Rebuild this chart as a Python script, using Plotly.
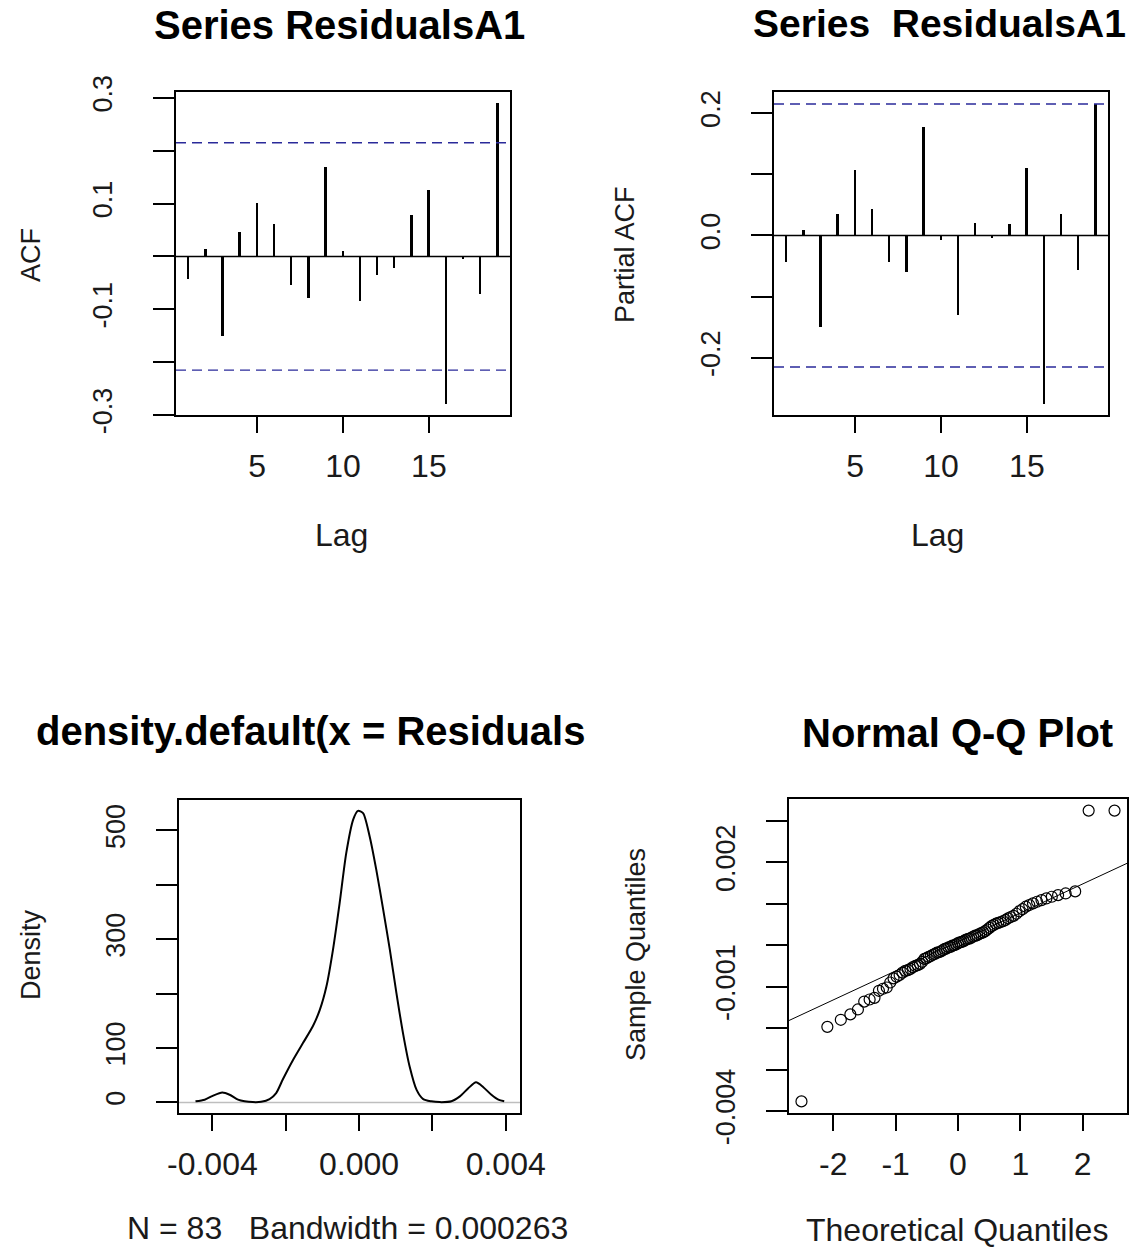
import plotly.graph_objects as go

# ---------------- data ----------------
lags = list(range(1, 20))
acf_values = [-0.042, 0.014, -0.151, 0.047, 0.101, 0.061, -0.055, -0.078, 0.170, 0.010,
              -0.084, -0.035, -0.021, 0.078, 0.125, -0.280, -0.005, -0.071, 0.290]
pacf_values = [-0.044, 0.009, -0.150, 0.035, 0.107, 0.044, -0.044, -0.059, 0.178, -0.007,
               -0.130, 0.020, -0.004, 0.018, 0.110, -0.275, 0.035, -0.056, 0.215]
conf_limit = 0.215

density_x = [-0.00446, -0.00421, -0.00399, -0.00373, -0.00353, -0.00330, -0.00312, -0.00290,
             -0.00267, -0.00244, -0.00226, -0.00208, -0.00180, -0.00153, -0.00126, -0.00107,
             -0.00089, -0.00071, -0.00053, -0.00035, -0.00016, -0.00003, 0.00011, 0.00029,
             0.00047, 0.00066, 0.00084, 0.00102, 0.00120, 0.00138, 0.00157, 0.00175,
             0.00197, 0.00220, 0.00252, 0.00275, 0.00298, 0.00319, 0.00339, 0.00361,
             0.00380, 0.00396]
density_y = [2, 5, 12, 18, 14, 5, 2, 0.5, 1, 6, 17, 42, 78, 109, 140, 170, 213, 281, 366, 458,
             520, 536, 532, 489, 428, 354, 281, 201, 127, 66, 23, 6, 2, 0.5, 2, 11, 26, 37, 28,
             14, 5, 2]
density_n = 83
density_bw = "0.000263"

qq_theoretical = [-2.510, -2.095, -1.879, -1.726, -1.605, -1.504, -1.417, -1.339, -1.268, -1.203,
                  -1.143, -1.087, -1.034, -0.984, -0.936, -0.890, -0.846, -0.803, -0.763, -0.723,
                  -0.684, -0.646, -0.609, -0.573, -0.538, -0.504, -0.470, -0.437, -0.404, -0.371,
                  -0.339, -0.307, -0.275, -0.244, -0.213, -0.182, -0.152, -0.121, -0.091, -0.060,
                  -0.030, 0.000, 0.030, 0.060, 0.091, 0.121, 0.152, 0.182, 0.213, 0.244,
                  0.275, 0.307, 0.339, 0.371, 0.404, 0.437, 0.470, 0.504, 0.538, 0.573,
                  0.609, 0.646, 0.684, 0.723, 0.763, 0.803, 0.846, 0.890, 0.936, 0.984,
                  1.034, 1.087, 1.143, 1.203, 1.268, 1.339, 1.417, 1.504, 1.605, 1.726,
                  1.879, 2.095, 2.510]
qq_sample = [-0.00377, -0.00197, -0.00180, -0.00167, -0.00155, -0.00136, -0.00131, -0.00127,
             -0.00110, -0.00105, -0.00102, -0.00090, -0.00080, -0.00076, -0.00072, -0.00066,
             -0.00062, -0.00060, -0.00057, -0.00053, -0.00050, -0.00048, -0.00045, -0.00040,
             -0.00033, -0.00031, -0.00028, -0.00026, -0.00023, -0.00021, -0.00018, -0.00017,
             -0.00015, -0.00012, -0.00009, -0.00008, -0.00005, -0.00004, -0.00001, 0.00000,
             0.00002, 0.00005, 0.00007, 0.00008, 0.00010, 0.00013, 0.00015, 0.00016,
             0.00018, 0.00021, 0.00023, 0.00024, 0.00027, 0.00029, 0.00031, 0.00034,
             0.00038, 0.00042, 0.00046, 0.00049, 0.00052, 0.00054, 0.00056, 0.00058,
             0.00061, 0.00065, 0.00068, 0.00071, 0.00076, 0.00082, 0.00087, 0.00093,
             0.00097, 0.00101, 0.00105, 0.00109, 0.00113, 0.00117, 0.00121, 0.00125,
             0.00130, 0.00325, 0.00325]
qq_line_intercept = 0.00008
qq_line_slope = 0.00070

# tick labels
acf_yticks = [-0.3, -0.2, -0.1, 0.0, 0.1, 0.2, 0.3]
acf_ytext = ["-0.3", "", "-0.1", "", "0.1", "", "0.3"]
pacf_yticks = [-0.2, -0.1, 0.0, 0.1, 0.2]
pacf_ytext = ["-0.2", "", "0.0", "", "0.2"]
lag_ticks = [5, 10, 15]
dens_xticks = [-0.004, -0.002, 0.0, 0.002, 0.004]
dens_xtext = ["-0.004", "", "0.000", "", "0.004"]
dens_yticks = [0, 100, 200, 300, 400, 500]
dens_ytext = ["0", "100", "", "300", "", "500"]
qq_xticks = [-2, -1, 0, 1, 2]
qq_yticks = [-0.004, -0.003, -0.002, -0.001, 0.0, 0.001, 0.002, 0.003]
qq_ytext = ["-0.004", "", "", "-0.001", "", "", "0.002", ""]

# ---------------- figure ----------------
W, H = 1148, 1247
FONT = "Liberation Sans, Arial, sans-serif"
TXT = "#1a1a1a"

fig = go.Figure()

fig.add_trace(go.Bar(x=lags, y=acf_values, width=0.11, marker=dict(color="black", line=dict(width=0)),
                     xaxis="x", yaxis="y", showlegend=False))
fig.add_trace(go.Bar(x=lags, y=pacf_values, width=0.11, marker=dict(color="black", line=dict(width=0)),
                     xaxis="x2", yaxis="y2", showlegend=False))
fig.add_trace(go.Scatter(x=density_x, y=density_y, mode="lines",
                         line=dict(color="black", width=2, shape="spline", smoothing=0.7),
                         xaxis="x3", yaxis="y3", showlegend=False))
fig.add_trace(go.Scatter(x=qq_theoretical, y=qq_sample, mode="markers",
                         marker=dict(symbol="circle-open", size=11, color="black", line=dict(width=1.2)),
                         xaxis="x4", yaxis="y4", showlegend=False))
qq_xrange = [-2.71, 2.71]
fig.add_trace(go.Scatter(x=qq_xrange, y=[qq_line_intercept + qq_line_slope * v for v in qq_xrange],
                         mode="lines", line=dict(color="black", width=1),
                         xaxis="x4", yaxis="y4", showlegend=False))


def px_x(p):
    return p / W


def px_y(p):
    return 1 - p / H


def axis(domain, rng, tickvals, ticktext, ticklen, anchor, angle=0, size=32, standoff=6):
    return dict(domain=domain, range=rng, tickvals=tickvals, ticktext=ticktext,
                showline=True, mirror=True, linecolor="black", linewidth=1.5,
                ticks="outside", ticklen=ticklen, tickwidth=1.5, tickcolor="black",
                showgrid=False, zeroline=False, anchor=anchor, tickangle=angle,
                ticklabelstandoff=standoff, automargin=False,
                tickfont=dict(family=FONT, size=size, color=TXT), fixedrange=True)


lay = dict(
    width=W, height=H, margin=dict(l=0, r=0, t=0, b=0, pad=0), autosize=False,
    paper_bgcolor="white", plot_bgcolor="white", bargap=0, showlegend=False,
    xaxis=axis([px_x(176), px_x(510)], [0.28, 19.72], lag_ticks, [str(v) for v in lag_ticks], 16, "y"),
    yaxis=axis([px_y(415), px_y(92)], [-0.300, 0.311], acf_yticks, acf_ytext, 21, "x", -90, 27, 30),
    xaxis2=axis([px_x(774), px_x(1108)], [0.28, 19.72], lag_ticks, [str(v) for v in lag_ticks], 16, "y2"),
    yaxis2=axis([px_y(415), px_y(92)], [-0.2935, 0.2346], pacf_yticks, pacf_ytext, 21, "x2", -90, 27, 20),
    xaxis3=axis([px_x(179), px_x(520)], [-0.00491, 0.00439], dens_xticks, dens_xtext, 16, "y3"),
    yaxis3=axis([px_y(1113), px_y(800)], [-19.5, 556], dens_yticks, dens_ytext, 21, "x3", -90, 27, 20),
    xaxis4=axis([px_x(789), px_x(1127)], qq_xrange, qq_xticks, [str(v) for v in qq_xticks], 16, "y4"),
    yaxis4=axis([px_y(1113), px_y(799)], [-0.00405, 0.00353], qq_yticks, qq_ytext, 21, "x4", -90, 27, 20),
)
fig.update_layout(**lay)

for xr, yr in [("x", "y"), ("x2", "y2")]:
    fig.add_shape(type="line", xref=f"{xr} domain", yref=yr, x0=0, x1=1, y0=0, y1=0,
                  line=dict(color="black", width=1.5))
    for s in (1, -1):
        fig.add_shape(type="line", xref=f"{xr} domain", yref=yr, x0=0, x1=1,
                      y0=s * conf_limit, y1=s * conf_limit,
                      line=dict(color="#2a2a9a", width=1.3, dash="10px,6px"))
fig.add_shape(type="line", xref="x3 domain", yref="y3", x0=0, x1=1, y0=0, y1=0,
              line=dict(color="#bebebe", width=1.5), layer="below")


def ann(text, x, y, size, bold=False, angle=0, yanchor="middle"):
    fig.add_annotation(text=text, x=px_x(x), y=px_y(y), xref="paper", yref="paper",
                       xanchor="center", yanchor=yanchor, showarrow=False, textangle=angle,
                       font=dict(family=FONT, size=size, color="black" if bold else TXT,
                                 weight="bold" if bold else "normal"))


ann("Series ResidualsA1", 339, 25, 40, True)
ann("Series\u00a0 ResidualsA1", 939, 0, 39, True, yanchor="top")
ann("density.default(x = Residuals", 310, 731, 40, True)
ann("Normal Q-Q Plot", 957, 733, 40, True)
ann("Lag", 341, 535, 32)
ann("Lag", 938, 535, 32)
ann(f"N = {density_n}\u00a0\u00a0 Bandwidth = {density_bw}", 347, 1228, 32)
ann("Theoretical Quantiles", 957, 1230, 32)
ann("ACF", 31, 255, 27, angle=-90)
ann("Partial ACF", 625, 255, 27, angle=-90)
ann("Density", 31, 955, 27, angle=-90)
ann("Sample Quantiles", 636, 955, 27, angle=-90)

fig.write_html("out.html")
